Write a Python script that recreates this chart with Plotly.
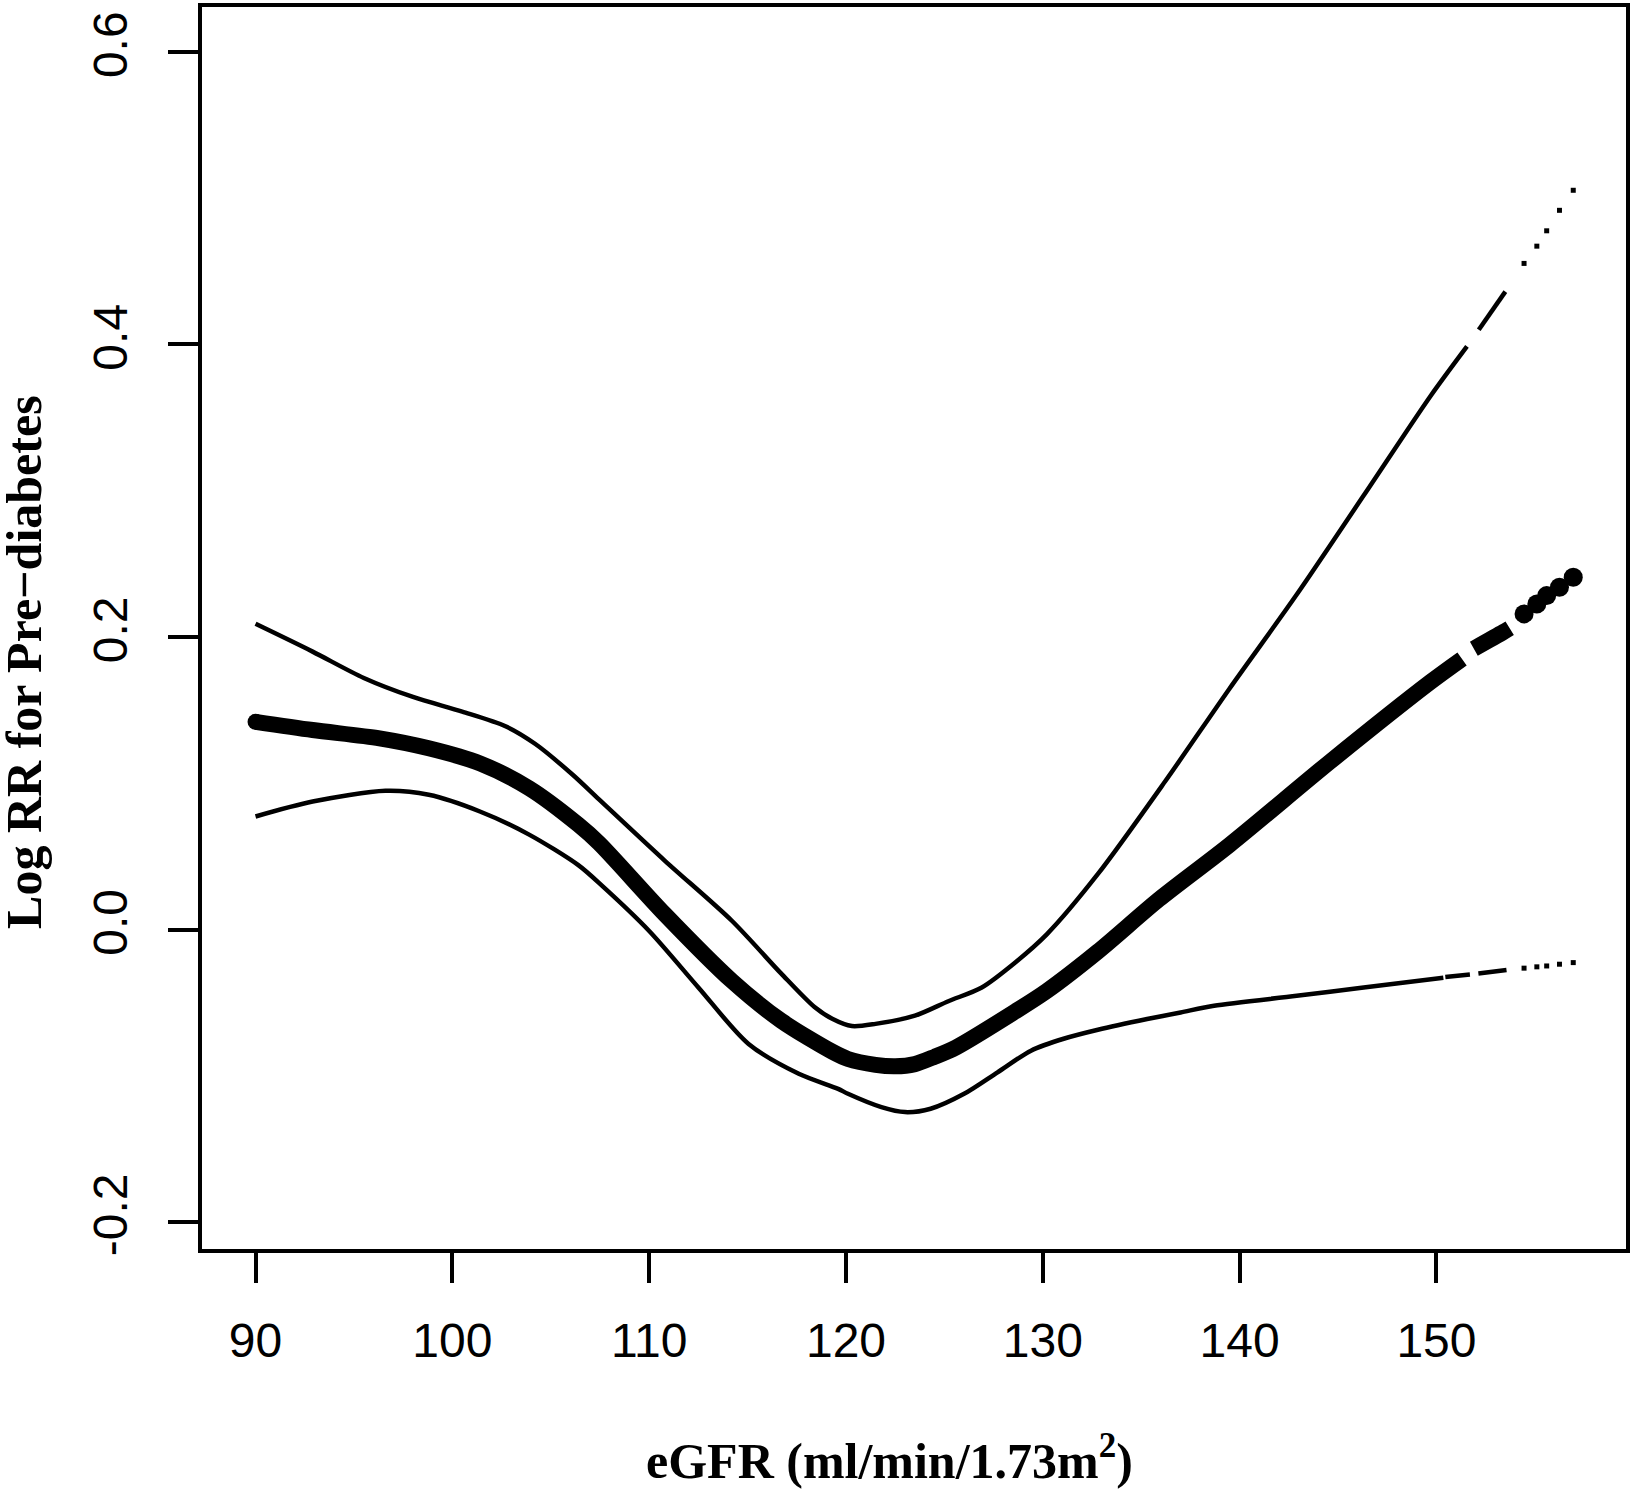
import plotly.graph_objects as go

# estimate (thick line)
est_x = [90.0, 92.9, 96.3, 98.8, 101.4, 103.9, 106.4, 107.45, 110.8, 114.2, 116.7, 119.3,
         120.1, 121.5, 122.5, 123.5, 124.5, 125.6, 128.6, 130.2, 132.8, 135.9, 139.5, 144.6, 149.7, 151.3]
est_y = [0.142, 0.1364, 0.1307, 0.1239, 0.1136, 0.0966, 0.0717, 0.0591, 0.0104, -0.0351, -0.0623, -0.0835,
         -0.0885, -0.0925, -0.0935, -0.092, -0.087, -0.0805, -0.056, -0.042, -0.015, 0.0206, 0.058, 0.1148,
         0.1693, 0.185]
est_seg_x = [151.9, 153.4, 153.72]
est_seg_y = [0.192, 0.2034, 0.206]

# upper confidence limit
up_x = [90.0, 92.9, 95.5, 98.0, 100.5, 102.7, 104.2, 106.1, 107.45, 110.8, 114.2, 116.7, 118.4, 119.3,
        120.3, 121.5, 123.5, 125.2, 126.9, 128.6, 130.2, 132.8, 136.2, 139.5, 142.9, 146.3, 149.7, 151.55]
up_y = [0.209, 0.190, 0.172, 0.159, 0.149, 0.139, 0.127, 0.106, 0.089, 0.047, 0.006, -0.030, -0.053, -0.061,
        -0.066, -0.0645, -0.0589, -0.0490, -0.0396, -0.0225, -0.0033, 0.038, 0.101, 0.165, 0.229, 0.2967,
        0.3648, 0.3987]
up_seg_x = [152.15, 153.5]
up_seg_y = [0.41, 0.4361]

# lower confidence limit
lo_x = [90.0, 92.9, 96.6, 98.8, 101.4, 103.9, 106.4, 107.6, 110.0, 112.5, 115.05, 117.6, 119.6,
        120.1, 121.8, 123.0, 124.3, 126.0, 127.7, 129.4, 131.1, 132.8, 135.3, 137.0, 138.7, 142.9, 146.3, 150.35]
lo_y = [0.0773, 0.0875, 0.0948, 0.0921, 0.0807, 0.0649, 0.044, 0.030, -0.001, -0.0396, -0.0782, -0.0986, -0.1089,
        -0.1123, -0.1214, -0.1248, -0.1225, -0.1123, -0.0976, -0.0828, -0.0745, -0.0685, -0.0612, -0.0567, -0.0521,
        -0.0453, -0.0396, -0.0329]
lo_seg1_x = [150.45, 151.7]
lo_seg1_y = [-0.0325, -0.0307]
lo_seg2_x = [152.13, 153.56]
lo_seg2_y = [-0.030, -0.0276]

# sparse data at the right end
tail_x = [154.45, 155.1, 155.6, 156.25, 156.95]
tail_est = [0.2158, 0.2226, 0.2283, 0.2340, 0.2408]
tail_up = [0.4554, 0.4672, 0.4777, 0.4917, 0.5054]
tail_lo = [-0.0264, -0.0255, -0.0249, -0.0237, -0.0226]

x_ticks = [90, 100, 110, 120, 130, 140, 150]
y_ticks = [-0.2, 0.0, 0.2, 0.4, 0.6]
y_labels = ['-0.2', '0.0', '0.2', '0.4', '0.6']

fig = go.Figure()

def add_line(x, y, w):
    fig.add_trace(go.Scatter(x=x, y=y, mode='lines', line=dict(color='black', width=w, shape='spline', smoothing=0.8),
                             hoverinfo='skip'))

# confidence limits
add_line(up_x, up_y, 4.5)
add_line(up_seg_x, up_seg_y, 4.5)
add_line(lo_x, lo_y, 4.5)
add_line(lo_seg1_x, lo_seg1_y, 4.5)
add_line(lo_seg2_x, lo_seg2_y, 4.5)
# estimate
add_line(est_x, est_y, 16)
add_line(est_seg_x, est_seg_y, 16)
# round start of thick line
fig.add_trace(go.Scatter(x=est_x[:1], y=est_y[:1], mode='markers',
                         marker=dict(color='black', size=16), hoverinfo='skip'))

# tail points
fig.add_trace(go.Scatter(x=tail_x, y=tail_est, mode='markers', marker=dict(color='black', size=19), hoverinfo='skip'))
fig.add_trace(go.Scatter(x=tail_x, y=tail_up, mode='markers',
                         marker=dict(color='black', size=5, symbol='square'), hoverinfo='skip'))
fig.add_trace(go.Scatter(x=tail_x, y=tail_lo, mode='markers',
                         marker=dict(color='black', size=5, symbol='square'), hoverinfo='skip'))

tick_font = dict(family='Liberation Sans, Arial', size=48, color='black')
title_font = dict(family='Liberation Serif, Times New Roman', size=50, color='black')

fig.update_layout(
    width=1633, height=1489,
    margin=dict(l=202, r=3, t=3, b=240),
    paper_bgcolor='white', plot_bgcolor='white',
    showlegend=False,
    xaxis=dict(range=[87.28, 159.63], tickvals=x_ticks, ticks='outside', ticklen=30, tickwidth=4,
               tickcolor='black', showline=True, linewidth=4, linecolor='black', mirror=True,
               showgrid=False, zeroline=False, tickfont=tick_font, ticklabelstandoff=16),
    yaxis=dict(range=[-0.2184, 0.6307], tickvals=y_ticks, ticktext=y_labels, tickangle=-90,
               ticks='outside', ticklen=30, tickwidth=4, tickcolor='black',
               showline=True, linewidth=4, linecolor='black', mirror=True,
               showgrid=False, zeroline=False, tickfont=tick_font, ticklabelstandoff=22),
    annotations=[
        dict(text='<b>Log RR for Pre\u2212diabetes</b>', xref='paper', yref='paper', x=-0.125, y=0.4727,
             textangle=-90, showarrow=False, xanchor='center', yanchor='middle', font=title_font),
        dict(text='<b>eGFR (ml/min/1.73m<sup>2</sup>)</b>', xref='paper', yref='paper', x=0.4825, y=-0.168,
             showarrow=False, xanchor='center', yanchor='middle', font=title_font),
    ],
)

# drop the browser's default body margin so the figure sits at the page corner
fig.write_html('out.html', config={'displayModeBar': False},
               post_script="document.body.style.margin='0';")
